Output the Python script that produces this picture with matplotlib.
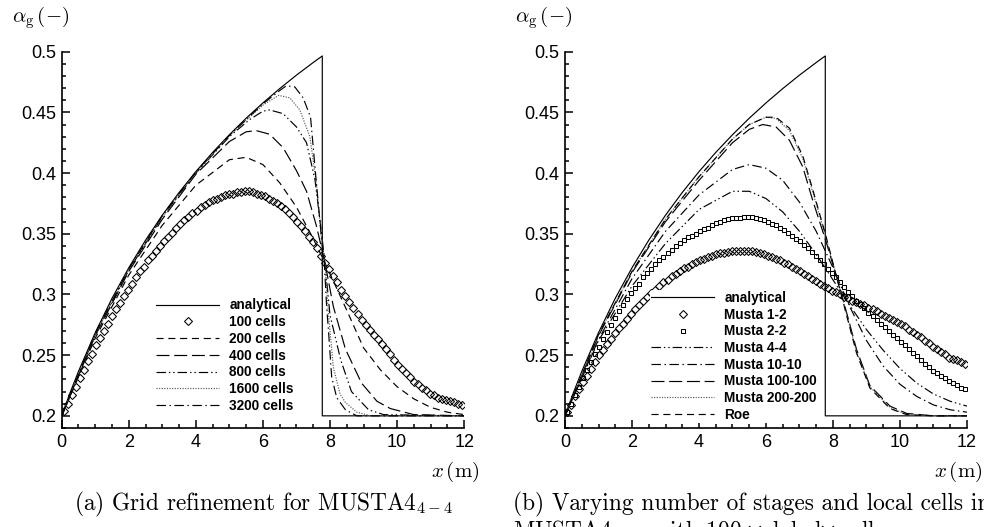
import numpy as np
import matplotlib.pyplot as plt
from matplotlib.ticker import MultipleLocator, FuncFormatter

plt.rcParams['mathtext.fontset'] = 'cm'
plt.rcParams['font.family'] = ['Liberation Sans', 'DejaVu Sans']

# analytical solution (water faucet)
x_exact = [0.0, 0.25, 0.5, 1.0, 1.5, 2.0, 2.5, 3.0, 3.5, 4.0, 4.5, 5.0, 5.5,
           6.0, 6.5, 7.0, 7.5, 7.77, 7.77, 12.0]
a_exact = [0.200, 0.219, 0.2366, 0.2685, 0.2968, 0.3220, 0.3447, 0.3653, 0.3840,
           0.4012, 0.4170, 0.4316, 0.4452, 0.4578, 0.4696, 0.4807, 0.4911, 0.4965,
           0.200, 0.200]

# (a) grid refinement
cells_100 = [0.204, 0.210, 0.217, 0.224, 0.231, 0.238, 0.245, 0.251, 0.258, 0.264,
             0.270, 0.276, 0.282, 0.288, 0.293, 0.299, 0.304, 0.309, 0.314, 0.319,
             0.323, 0.328, 0.332, 0.336, 0.340, 0.344, 0.347, 0.351, 0.355, 0.358,
             0.361, 0.364, 0.367, 0.369, 0.372, 0.374, 0.376, 0.378, 0.379, 0.380,
             0.382, 0.383, 0.383, 0.384, 0.384, 0.385, 0.385, 0.384, 0.383, 0.382,
             0.381, 0.379, 0.377, 0.375, 0.373, 0.370, 0.367, 0.364, 0.360, 0.356,
             0.352, 0.347, 0.343, 0.338, 0.332, 0.326, 0.321, 0.315, 0.310, 0.304,
             0.299, 0.294, 0.289, 0.284, 0.279, 0.275, 0.271, 0.267, 0.263, 0.259,
             0.255, 0.251, 0.246, 0.242, 0.239, 0.235, 0.232, 0.228, 0.226, 0.223,
             0.221, 0.218, 0.217, 0.215, 0.214, 0.213, 0.212, 0.211, 0.210, 0.209]

x_200 = [0, 1, 2, 3, 4, 5, 5.5, 6, 6.5, 7, 7.5, 7.85, 8.5, 9, 9.5, 10, 10.5, 11, 11.5, 12]
a_200 = [0.2, 0.264, 0.316, 0.357, 0.390, 0.411, 0.413, 0.407, 0.392, 0.372, 0.346,
         0.326, 0.287, 0.256, 0.238, 0.224, 0.214, 0.207, 0.203, 0.201]

x_400 = [0, 1, 2, 3, 4, 5, 5.5, 5.8, 6.2, 6.6, 7, 7.3, 7.6, 7.85, 8.1, 8.46, 8.94,
         9.4, 9.8, 10.5, 12]
a_400 = [0.2, 0.266, 0.319, 0.362, 0.399, 0.426, 0.434, 0.435, 0.432, 0.421, 0.402,
         0.385, 0.356, 0.326, 0.290, 0.255, 0.227, 0.212, 0.206, 0.201, 0.2]

x_800 = [0, 1, 2, 3, 4, 5, 5.6, 6.0, 6.2, 6.6, 7, 7.3, 7.55, 7.75, 7.85, 8.0, 8.32,
         8.64, 9.15, 9.6, 12]
a_800 = [0.2, 0.267, 0.320, 0.364, 0.400, 0.430, 0.444, 0.451, 0.452, 0.449, 0.438,
         0.425, 0.395, 0.350, 0.326, 0.283, 0.246, 0.220, 0.205, 0.201, 0.2]

x_1600 = [0, 1, 2, 3, 4, 5, 6, 6.47, 6.8, 7.1, 7.4, 7.6, 7.75, 7.85, 7.95, 8.1,
          8.3, 8.46, 8.8, 9.2, 12]
a_1600 = [0.2, 0.267, 0.321, 0.364, 0.400, 0.431, 0.456, 0.464, 0.462, 0.452, 0.430,
          0.390, 0.345, 0.326, 0.285, 0.240, 0.218, 0.211, 0.203, 0.2, 0.2]

x_3200 = [0, 1, 2, 3, 4, 5, 6, 6.5, 6.7, 6.95, 7.2, 7.42, 7.6, 7.75, 7.83, 7.9,
          7.96, 8.05, 8.2, 8.46, 8.8, 12]
a_3200 = [0.2, 0.268, 0.321, 0.365, 0.401, 0.431, 0.457, 0.468, 0.472, 0.471, 0.462,
          0.446, 0.390, 0.345, 0.326, 0.290, 0.268, 0.232, 0.215, 0.205, 0.2, 0.2]

# (b) stages / local cells, 100 global cells
musta_1_2 = [0.203, 0.209, 0.216, 0.222, 0.228, 0.233, 0.239, 0.244, 0.250, 0.254,
             0.259, 0.263, 0.268, 0.272, 0.276, 0.280, 0.284, 0.288, 0.291, 0.295,
             0.298, 0.301, 0.304, 0.307, 0.310, 0.312, 0.315, 0.317, 0.319, 0.322,
             0.323, 0.325, 0.327, 0.328, 0.329, 0.331, 0.332, 0.333, 0.334, 0.334,
             0.335, 0.336, 0.336, 0.336, 0.336, 0.336, 0.336, 0.335, 0.334, 0.333,
             0.332, 0.331, 0.329, 0.328, 0.326, 0.325, 0.323, 0.321, 0.319, 0.317,
             0.315, 0.313, 0.311, 0.309, 0.307, 0.305, 0.303, 0.302, 0.300, 0.298,
             0.297, 0.295, 0.294, 0.292, 0.291, 0.289, 0.288, 0.286, 0.284, 0.282,
             0.281, 0.279, 0.277, 0.276, 0.274, 0.271, 0.269, 0.267, 0.265, 0.262,
             0.260, 0.257, 0.255, 0.253, 0.251, 0.248, 0.247, 0.246, 0.244, 0.243]

musta_2_2 = [0.203, 0.210, 0.217, 0.224, 0.231, 0.238, 0.244, 0.251, 0.257, 0.263,
             0.269, 0.275, 0.281, 0.286, 0.291, 0.296, 0.301, 0.305, 0.309, 0.314,
             0.318, 0.321, 0.325, 0.328, 0.331, 0.334, 0.337, 0.340, 0.342, 0.345,
             0.347, 0.348, 0.350, 0.352, 0.354, 0.355, 0.357, 0.359, 0.360, 0.361,
             0.362, 0.363, 0.363, 0.363, 0.364, 0.364, 0.364, 0.363, 0.362, 0.361,
             0.360, 0.358, 0.357, 0.355, 0.353, 0.351, 0.348, 0.346, 0.344, 0.341,
             0.338, 0.335, 0.332, 0.328, 0.325, 0.321, 0.318, 0.314, 0.310, 0.306,
             0.302, 0.299, 0.295, 0.292, 0.289, 0.285, 0.282, 0.279, 0.276, 0.273,
             0.270, 0.267, 0.264, 0.261, 0.258, 0.255, 0.252, 0.249, 0.246, 0.243,
             0.240, 0.237, 0.235, 0.233, 0.231, 0.229, 0.227, 0.225, 0.223, 0.222]

x_44 = [0, 1, 2, 3, 4, 5, 5.5, 6, 6.5, 7, 7.5, 8, 8.5, 9, 9.5, 10, 10.5, 11, 11.5, 12]
a_44 = [0.2, 0.262, 0.307, 0.342, 0.370, 0.385, 0.385, 0.379, 0.368, 0.352, 0.333,
        0.312, 0.291, 0.271, 0.254, 0.239, 0.227, 0.218, 0.212, 0.208]

x_1010 = [0, 1, 2, 3, 4, 5, 5.5, 6, 6.5, 7, 7.5, 8, 8.5, 9, 9.5, 10, 10.5, 11, 11.5, 12]
a_1010 = [0.2, 0.263, 0.313, 0.352, 0.382, 0.403, 0.407, 0.404, 0.394, 0.376, 0.352,
          0.322, 0.290, 0.262, 0.241, 0.226, 0.216, 0.209, 0.205, 0.203]

x_100100 = [0, 1, 2, 3, 4, 5, 5.5, 5.9, 6.3, 6.7, 7.1, 7.4, 7.8, 8.3, 8.7, 9.1, 9.7,
            10.2, 11, 12]
a_100100 = [0.2, 0.266, 0.318, 0.360, 0.394, 0.425, 0.436, 0.440, 0.438, 0.427,
            0.405, 0.377, 0.343, 0.296, 0.255, 0.225, 0.208, 0.202, 0.2, 0.2]

x_200200 = [0, 1, 2, 3, 4, 5, 5.5, 6, 6.3, 6.7, 7.1, 7.4, 7.8, 8.3, 8.7, 9.1, 9.7,
            10.2, 11, 12]
a_200200 = [0.2, 0.267, 0.319, 0.362, 0.397, 0.428, 0.440, 0.446, 0.445, 0.435,
            0.412, 0.384, 0.346, 0.295, 0.253, 0.224, 0.207, 0.201, 0.2, 0.2]

x_roe = [0, 1, 2, 3, 4, 5, 5.5, 6, 6.3, 6.7, 7.1, 7.4, 7.8, 8.3, 8.7, 9.1, 9.7,
         10.2, 11, 12]
a_roe = [0.2, 0.267, 0.319, 0.362, 0.397, 0.428, 0.440, 0.446, 0.446, 0.437, 0.414,
         0.386, 0.347, 0.294, 0.252, 0.223, 0.206, 0.201, 0.2, 0.2]

labels_a = ['analytical', '100 cells', '200 cells', '400 cells', '800 cells',
            '1600 cells', '3200 cells']
labels_b = ['analytical', 'Musta 1-2', 'Musta 2-2', 'Musta 4-4', 'Musta 10-10',
            'Musta 100-100', 'Musta 200-200', 'Roe']

DASH = (0, (6, 4))
LONGDASH = (0, (11, 4))
DASHDOTDOT = (0, (8, 2.5, 1.2, 2.5, 1.2, 2.5))
DOTTED = (0, (1, 1.2))
DASHDOT = (0, (8, 3, 1.2, 3))


def cell_centres(values):
    n = len(values)
    return (np.arange(n) + 0.5) * 12.0 / n


def style_axes(ax):
    ax.set_xlim(0, 12)
    ax.set_ylim(0.19, 0.5)
    for s in ('top', 'right'):
        ax.spines[s].set_visible(False)
    for s in ('left', 'bottom'):
        ax.spines[s].set_linewidth(1.2)
    ax.xaxis.set_major_locator(MultipleLocator(2))
    ax.xaxis.set_minor_locator(MultipleLocator(0.5))
    ax.yaxis.set_major_locator(MultipleLocator(0.05))
    ax.yaxis.set_minor_locator(MultipleLocator(0.01))
    fmt = FuncFormatter(lambda v, _: '%g' % round(v, 3))
    ax.xaxis.set_major_formatter(fmt)
    ax.yaxis.set_major_formatter(fmt)
    ax.tick_params(which='both', direction='in', top=False, right=False, width=1.1)
    ax.tick_params(which='major', length=5.5, labelsize=13, pad=4)
    ax.tick_params(which='minor', length=3)
    ax.text(-50 / 402.0, 1.09, r'$\alpha_{\rm g}\,(-)$', transform=ax.transAxes,
            fontsize=15, ha='left', va='center')
    ax.text(1 + 15 / 402.0, -0.117, r'$x\,(\mathrm{m})$', transform=ax.transAxes,
            fontsize=15, ha='right', va='center')


def add_legend(ax, anchor):
    leg = ax.legend(loc='upper left', bbox_to_anchor=anchor, frameon=True,
                    framealpha=1, facecolor='white', edgecolor='none',
                    borderpad=0.1, borderaxespad=0, handlelength=4.6,
                    handletextpad=0.75, labelspacing=0.2, numpoints=1,
                    prop={'weight': 'bold', 'size': 9.8})
    leg.set_zorder(5)


fig = plt.figure(figsize=(9.84, 5.27), dpi=100)
ax1 = fig.add_axes([0.0627, 0.1879, 0.409, 0.714])
ax2 = fig.add_axes([0.5742, 0.1879, 0.4085, 0.714])

lw = 0.85
mk = dict(ls='none', mfc='none', mec='black', mew=0.75)

# (a)
ax1.plot(x_exact, a_exact, color='black', lw=lw, label=labels_a[0])
ax1.plot(cell_centres(cells_100), cells_100, marker='D', ms=3.7, label=labels_a[1], **mk)
ax1.plot(x_200, a_200, color='black', lw=lw, ls=DASH, label=labels_a[2])
ax1.plot(x_400, a_400, color='black', lw=lw, ls=LONGDASH, label=labels_a[3])
ax1.plot(x_800, a_800, color='black', lw=lw, ls=DASHDOTDOT, label=labels_a[4])
ax1.plot(x_1600, a_1600, color='0.35', lw=lw, ls=DOTTED, label=labels_a[5])
ax1.plot(x_3200, a_3200, color='black', lw=lw, ls=DASHDOT, label=labels_a[6])
style_axes(ax1)
add_legend(ax1, (0.232, 0.348))

# (b)
ax2.plot(x_exact, a_exact, color='black', lw=lw, label=labels_b[0])
ax2.plot(cell_centres(musta_1_2), musta_1_2, marker='D', ms=3.7, label=labels_b[1], **mk)
ax2.plot(cell_centres(musta_2_2), musta_2_2, marker='s', ms=3.5, label=labels_b[2], **mk)
ax2.plot(x_44, a_44, color='black', lw=lw, ls=DASHDOTDOT, label=labels_b[3])
ax2.plot(x_1010, a_1010, color='black', lw=lw, ls=DASHDOT, label=labels_b[4])
ax2.plot(x_100100, a_100100, color='black', lw=lw, ls=LONGDASH, label=labels_b[5])
ax2.plot(x_200200, a_200200, color='0.35', lw=lw, ls=DOTTED, label=labels_b[6])
ax2.plot(x_roe, a_roe, color='black', lw=lw, ls=DASH, label=labels_b[7])
style_axes(ax2)
add_legend(ax2, (0.2114, 0.368))

# captions
cap = dict(fontsize=16.8, family=['cmr10', 'DejaVu Serif'], va='baseline')
fig.text(263 / 984, 1 - 510 / 527, r'(a) Grid refinement for MUSTA4$_{4-4}$',
         ha='center', **cap)
fig.text(513 / 984, 1 - 510 / 527, '(b) Varying number of stages and local cells in',
         ha='left', **cap)
fig.text(513 / 984, 1 - 538 / 527, 'MUSTA4$_{k-l}$ with 100 \u201cglobal\u201d cells',
         ha='left', **cap)

fig.savefig('out.png', dpi=100)
